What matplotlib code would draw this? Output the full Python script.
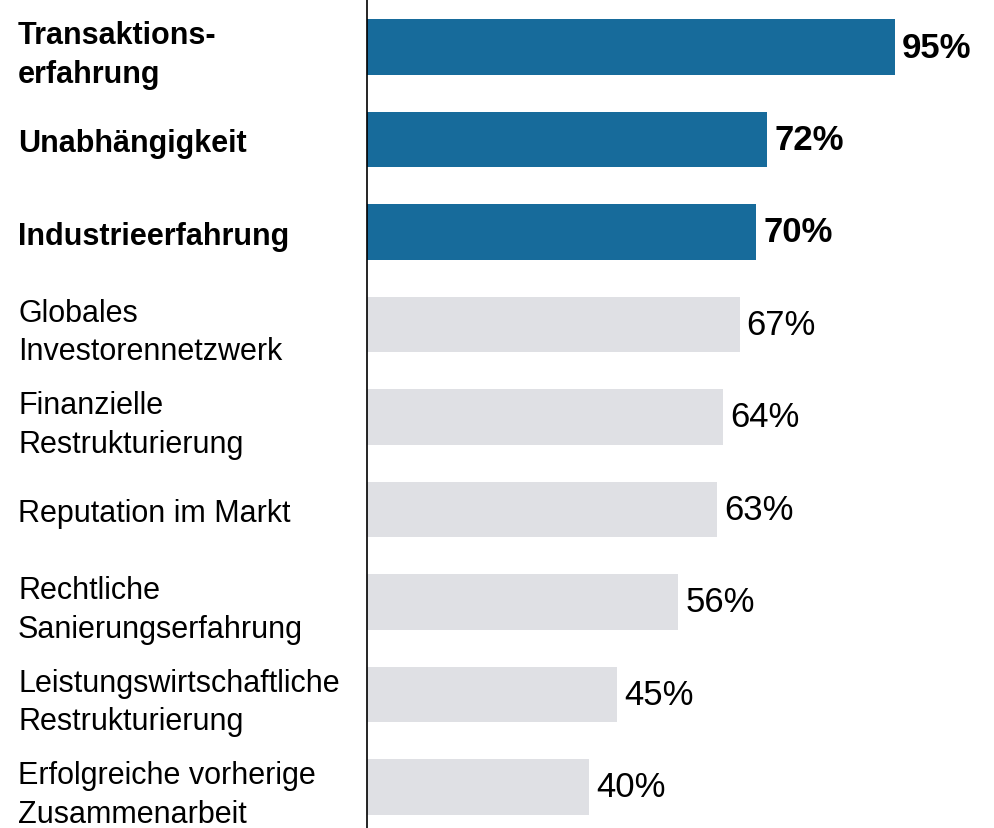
import matplotlib
matplotlib.use("Agg")
import matplotlib.pyplot as plt

# data
categories = ['Transaktions-\nerfahrung', 'Unabhängigkeit', 'Industrieerfahrung',
              'Globales\nInvestorennetzwerk', 'Finanzielle\nRestrukturierung',
              'Reputation im Markt', 'Rechtliche\nSanierungserfahrung',
              'Leistungswirtschaftliche\nRestrukturierung',
              'Erfolgreiche vorherige\nZusammenarbeit']
values = [95, 72, 70, 67, 64, 63, 56, 45, 40]
highlight = [True, True, True, False, False, False, False, False, False]

plt.rcParams['font.family'] = ['Liberation Sans', 'DejaVu Sans']

blue = '#176b9b'
grey = '#dfe0e4'

fig = plt.figure(figsize=(9.95, 8.29), dpi=100)
ax = fig.add_axes([367 / 995, 0, 628 / 995, 1])

y = list(range(len(values)))
colors = [blue if h else grey for h in highlight]
ax.barh(y, values, height=0.605, color=colors)

ax.set_xlim(0, 628 / 5.56)
ax.set_ylim(8 + 41 / 92.5, -48 / 92.5)

# percentage labels
for i, v in enumerate(values):
    ax.annotate(str(v) + '%', (v, i), xytext=(5, 0), textcoords='offset points',
                va='center', ha='left', fontsize=25,
                fontweight='bold' if highlight[i] else 'normal')

# category labels
ax.set_yticks(y)
ax.set_yticklabels(categories)
for lab, h in zip(ax.get_yticklabels(), highlight):
    lab.set_horizontalalignment('left')
    lab.set_fontsize(22)
    lab.set_linespacing(1.35)
    if h:
        lab.set_fontweight('bold')
ax.tick_params(axis='y', length=0, pad=(367 - 18) / 1.389)
ax.tick_params(axis='x', bottom=False, labelbottom=False)

for s in ['top', 'right', 'bottom']:
    ax.spines[s].set_visible(False)
ax.spines['left'].set_linewidth(1.2)

fig.savefig('out.png', dpi=100)
